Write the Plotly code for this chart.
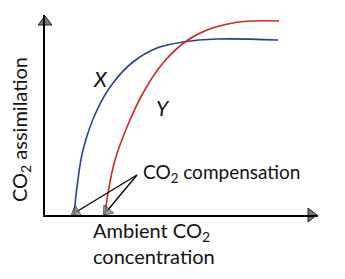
import plotly.graph_objects as go

# Curve X (blue) and Y (red): ambient CO2 vs CO2 assimilation (arbitrary units)
x_curve_x = [29, 32, 38, 52, 68, 88, 112, 138, 172, 233]
y_curve_x = [0, 28, 65, 105, 132, 153, 167, 173, 176, 175]
x_curve_y = [60, 63, 70, 82, 98, 118, 140, 162, 188, 208, 234]
y_curve_y = [0, 22, 55, 88, 122, 152, 173, 185, 192, 194, 194]

label_x = "<i>X</i>"
label_y = "<i>Y</i>"
comp_text = "CO<sub>2</sub> compensation"
xtitle = "Ambient CO<sub>2</sub><br>concentration"
ytitle = "CO<sub>2</sub> assimilation"

FONT = "Lato, Noto Sans, sans-serif"
W, H = 345, 279
ML, MR, MT, MB = 45, 27, 15, 64
XMAX, YMAX = 273, 200

fig = go.Figure()
fig.add_trace(go.Scatter(x=x_curve_x, y=y_curve_x, mode="lines",
                         line=dict(color="#27408b", width=1.6, shape="spline", smoothing=1.0),
                         hoverinfo="skip", showlegend=False, cliponaxis=False))
fig.add_trace(go.Scatter(x=x_curve_y, y=y_curve_y, mode="lines",
                         line=dict(color="#cc2a1f", width=1.6, shape="spline", smoothing=1.0),
                         hoverinfo="skip", showlegend=False, cliponaxis=False))

# compensation arrows: from text to the x-intercepts of each curve
tail = (92, 40)
for tip in [(x_curve_x[0] + 2, 3), (x_curve_y[0] + 2, 4)]:
    fig.add_trace(go.Scatter(x=[tail[0], tip[0]], y=[tail[1], tip[1]], mode="lines+markers",
                             line=dict(color="black", width=1.3),
                             marker=dict(symbol="triangle-up", angleref="previous",
                                         size=[0, 11], color="#777",
                                         line=dict(color="#222", width=1)),
                             hoverinfo="skip", showlegend=False, cliponaxis=False))

# axis arrowheads
fig.add_trace(go.Scatter(x=[0], y=[YMAX - 7], mode="markers",
                         marker=dict(symbol="triangle-up", size=12, color="#777",
                                     line=dict(color="#222", width=1)),
                         hoverinfo="skip", showlegend=False, cliponaxis=False))
fig.add_trace(go.Scatter(x=[XMAX - 7], y=[0], mode="markers",
                         marker=dict(symbol="triangle-right", size=12, color="#777",
                                     line=dict(color="#222", width=1)),
                         hoverinfo="skip", showlegend=False, cliponaxis=False))

fig.add_annotation(x=55, y=137, text=label_x, showarrow=False,
                   font=dict(family=FONT, size=21, color="#111"))
fig.add_annotation(x=118, y=108, text=label_y, showarrow=False,
                   font=dict(family=FONT, size=21, color="#111"))
fig.add_annotation(x=96, y=42, text=comp_text, showarrow=False, xanchor="left",
                   font=dict(family=FONT, size=19, color="#111"))
fig.add_annotation(xref="paper", yref="paper", x=(91 - ML) / XMAX, y=-0.005,
                   text=xtitle, showarrow=False, xanchor="left", yanchor="top",
                   align="left", font=dict(family=FONT, size=20, color="#111"))
fig.add_annotation(xref="paper", yref="paper", x=(20 - ML) / XMAX, y=(215 - 130) / YMAX,
                   text=ytitle, showarrow=False, textangle=-90, xanchor="center",
                   font=dict(family=FONT, size=20, color="#111"))

fig.update_xaxes(range=[0, XMAX], showgrid=False, zeroline=False, showticklabels=False,
                 ticks="", showline=True, linecolor="black", linewidth=1.5)
fig.update_yaxes(range=[0, YMAX], showgrid=False, zeroline=False, showticklabels=False,
                 ticks="", showline=True, linecolor="black", linewidth=1.5)
fig.update_layout(width=W, height=H, margin=dict(l=ML, r=MR, t=MT, b=MB),
                  paper_bgcolor="white", plot_bgcolor="white")
fig.write_html("out.html")
